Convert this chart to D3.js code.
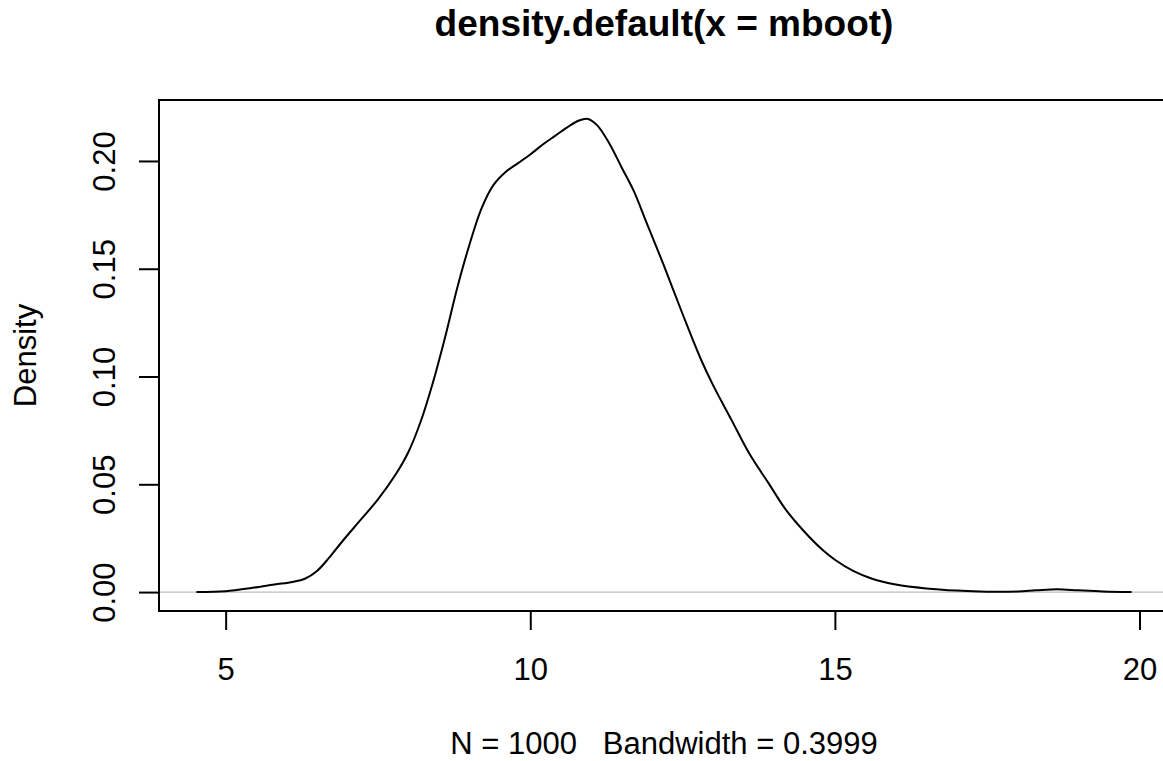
<!DOCTYPE html>
<html><head><meta charset="utf-8">
<script src="https://cdn.jsdelivr.net/npm/d3@7"></script>
<style>body{margin:0;background:#fff}svg{display:block}text{font-family:"Liberation Sans",Arial,sans-serif;fill:#000}</style>
</head><body>
<svg id="c" width="1163" height="761"></svg>
<script>
const densX = [4.52,4.8,5.0,5.4,5.8,6.1,6.3,6.5,6.7,6.9,7.2,7.5,7.8,8.0,8.2,8.4,8.6,8.8,9.0,9.2,9.4,9.6,9.8,10.0,10.2,10.4,10.6,10.8,10.95,11.1,11.3,11.5,11.7,11.9,12.2,12.5,12.8,13.0,13.3,13.6,13.9,14.2,14.5,14.8,15.0,15.3,15.6,16.0,16.5,17.0,17.5,18.0,18.3,18.65,19.0,19.4,19.87];
const densY = [0,0.0001,0.0004,0.0018,0.0035,0.0047,0.0062,0.0098,0.016,0.023,0.033,0.043,0.055,0.065,0.079,0.097,0.118,0.141,0.161,0.178,0.189,0.195,0.199,0.203,0.2075,0.2115,0.2155,0.2188,0.2195,0.2165,0.208,0.197,0.186,0.172,0.151,0.129,0.108,0.096,0.080,0.064,0.051,0.038,0.028,0.0195,0.015,0.0098,0.0063,0.0035,0.0017,0.0007,0.0002,0.0003,0.0008,0.0013,0.0008,0.0003,0];
const xTicks = [5,10,15,20];
const yTicks = [0,0.05,0.10,0.15,0.20];
const yTickLabels = ["0.00","0.05","0.10","0.15","0.20"];
const titleText = "density.default(x = mboot)";
const xLabel = "N = 1000   Bandwidth = 0.3999";
const yLabel = "Density";

(function(){
const svg = d3.select("#c");
const pL = 159, pR = 1169, pT = 100, pB = 611;
const fs = 31;
const xr = d3.extent(densX), xpad = (xr[1]-xr[0])*0.04;
const ymax = d3.max(densY), ypad = ymax*0.04;
const x = d3.scaleLinear().domain([xr[0]-xpad, xr[1]+xpad]).range([pL, pR]);
const y = d3.scaleLinear().domain([-ypad, ymax+ypad]).range([pB, pT]);

svg.append("line").attr("x1",pL).attr("x2",pR).attr("y1",y(0)).attr("y2",y(0))
  .attr("stroke","#bebebe").attr("stroke-width",1.3);

const pts = densX.map((d,i)=>[d,densY[i]]);
svg.append("path").datum(pts)
  .attr("d", d3.line().x(d=>x(d[0])).y(d=>y(d[1])).curve(d3.curveCatmullRom.alpha(0.5)))
  .attr("fill","none").attr("stroke","#000").attr("stroke-width",2);

svg.append("rect").attr("x",pL).attr("y",pT).attr("width",pR-pL).attr("height",pB-pT)
  .attr("fill","none").attr("stroke","#000").attr("stroke-width",2);

const xa = svg.append("g").attr("transform",`translate(0,${pB})`)
  .call(d3.axisBottom(x).tickValues(xTicks).tickSize(19).tickFormat(d3.format("d")));
xa.select(".domain").attr("d",`M${x(5)},0H${x(20)}`).attr("stroke-width",2);
xa.selectAll(".tick line").attr("stroke-width",2);
xa.selectAll(".tick text").attr("y",69).attr("dy",null)
  .style("font-size",fs+"px").attr("font-family",null);

const ya = svg.append("g").attr("transform",`translate(${pL},0)`)
  .call(d3.axisLeft(y).tickValues(yTicks).tickSize(20).tickFormat((d,i)=>yTickLabels[i]));
ya.select(".domain").attr("d",`M0,${y(0)}V${y(0.2)}`).attr("stroke-width",2);
ya.selectAll(".tick line").attr("stroke-width",2);
ya.selectAll(".tick text").attr("x",null).attr("dy",null)
  .attr("transform","translate(-44,0) rotate(-90)").attr("text-anchor","middle")
  .style("font-size",fs+"px").attr("font-family",null);

const cx = (pL+pR)/2;
svg.append("text").attr("x",cx).attr("y",36).attr("text-anchor","middle")
  .style("font-size","37px").style("font-weight","bold").text(titleText);
svg.append("text").attr("x",cx).attr("y",754).attr("text-anchor","middle")
  .style("font-size",fs+"px").style("white-space","pre").text(xLabel);
svg.append("text").attr("transform",`translate(36,${(pT+pB)/2}) rotate(-90)`).attr("text-anchor","middle")
  .style("font-size",fs+"px").text(yLabel);
})();
</script>
</body></html>
